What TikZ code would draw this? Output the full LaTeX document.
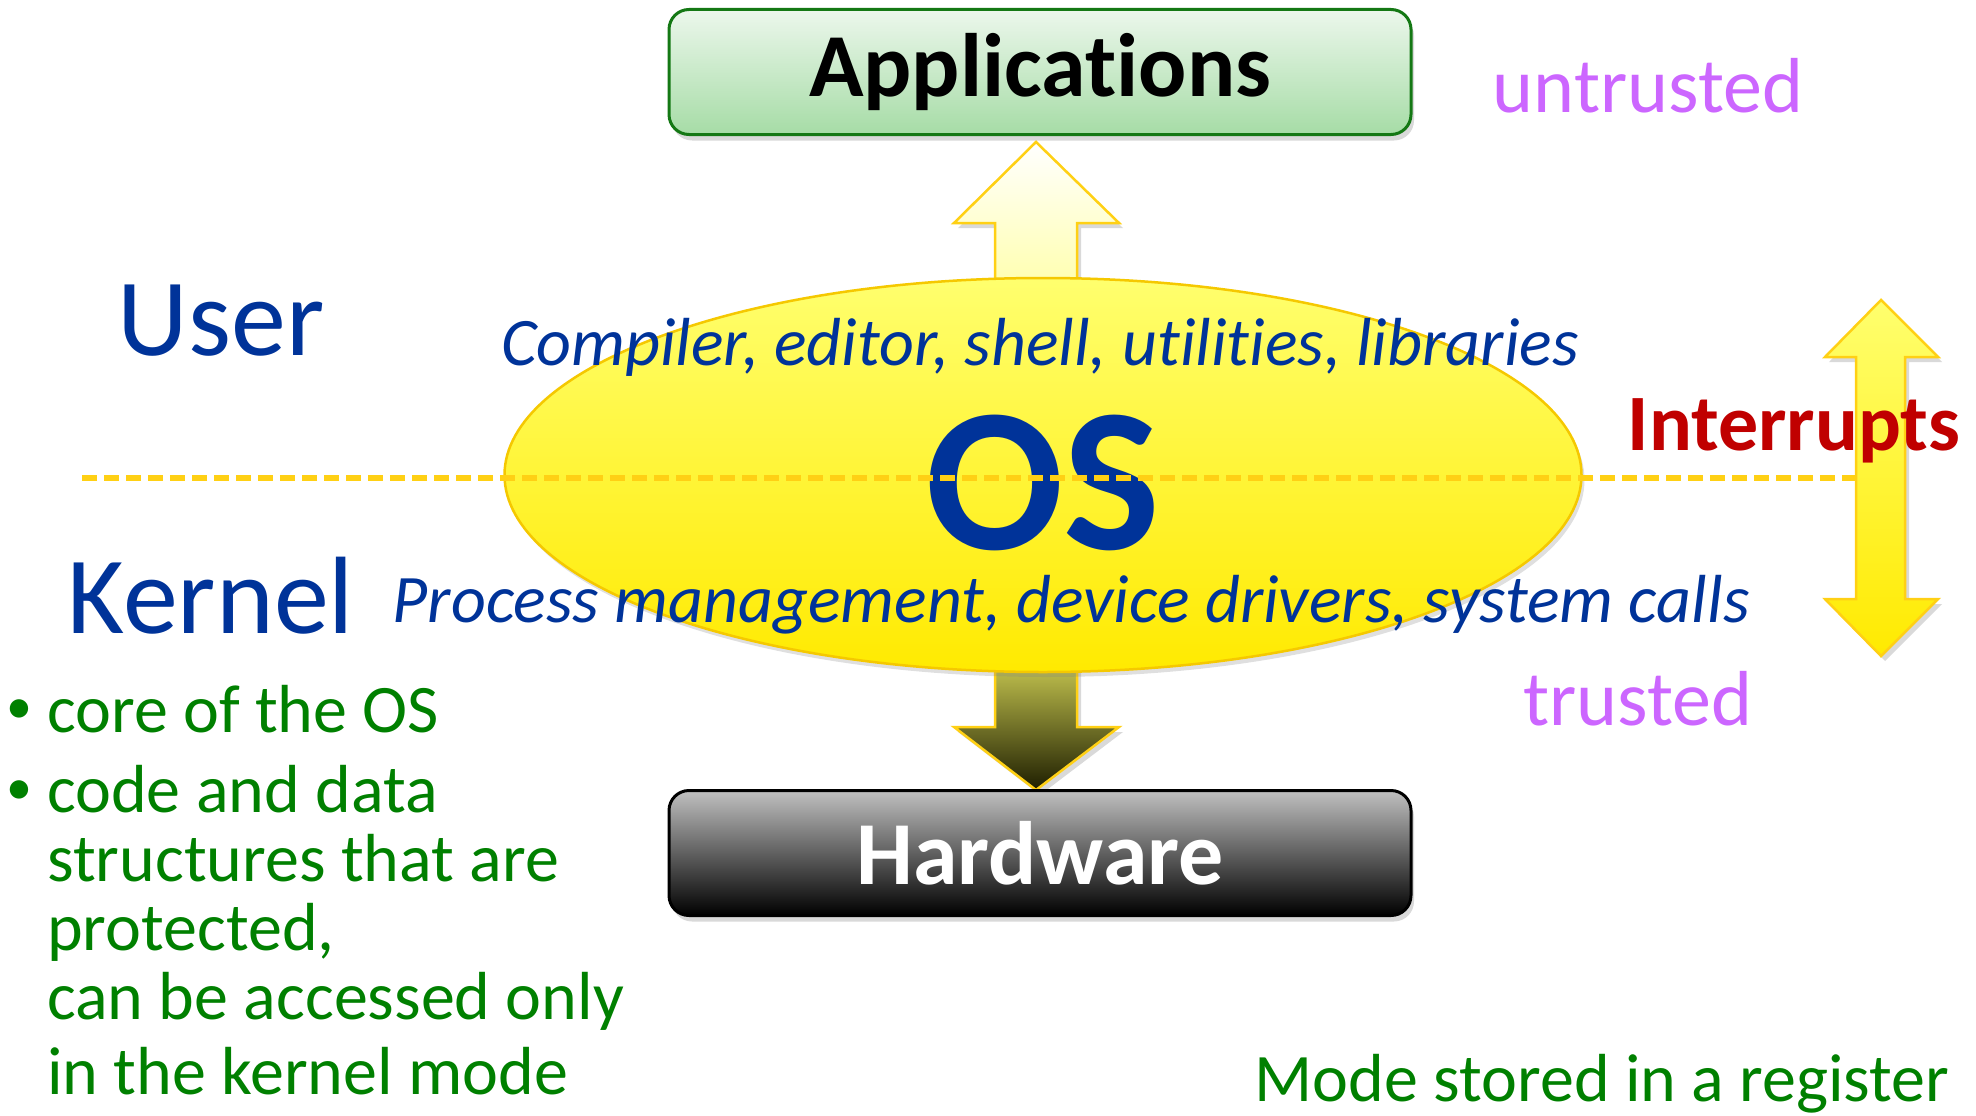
\documentclass[tikz,border=0pt]{standalone}
\usepackage{fontspec}
\setmainfont{Carlito}[RawFeature={-liga;-clig;-calt;-dlig}]
\usetikzlibrary{positioning,shapes.geometric,shadows}

\definecolor{userblue}{RGB}{0,51,153}
\definecolor{intred}{RGB}{192,0,0}
\definecolor{trustviolet}{RGB}{204,102,255}
\definecolor{notegreen}{RGB}{0,128,0}
\definecolor{gold}{RGB}{255,208,20}
\definecolor{boxgreen}{RGB}{20,120,20}

\begin{document}
\begin{tikzpicture}[
    x=1pt, y=-1pt,
    layerbox/.style={draw, line width=3, rounded corners=20, minimum width=742, minimum height=125, inner sep=0,
      drop shadow={shadow xshift=3pt, shadow yshift=-6pt, opacity=0.3}},
    blockarr/.style={draw=gold, line width=2.5, drop shadow={shadow xshift=4pt, shadow yshift=-5pt, opacity=0.3}},
    big/.style={font=\fontsize{90}{100}\selectfont\bfseries},
    mode/.style={font=\fontsize{110}{120}\selectfont, text=userblue, inner sep=0},
    layer/.style={font=\fontsize{68}{75}\selectfont\itshape, text=userblue, inner sep=0},
    trust/.style={font=\fontsize{78}{85}\selectfont, text=trustviolet, inner sep=0},
    note/.style={font=\fontsize{68}{69}\selectfont, text=notegreen, inner sep=0, align=left},
    divider/.style={gold, line width=6, dash pattern=on 15pt off 7pt}
]
\useasboundingbox (0,0) rectangle (1976,1116);

% arrows behind the OS
\draw[blockarr, top color=white, bottom color={rgb,255:red,255;green,255;blue,150}]
  (995,330) -- (995,223) -- (954,223) -- (1036,142) -- (1119,223) -- (1077,223) -- (1077,330) -- cycle;
\draw[blockarr, top color={rgb,255:red,240;green,240;blue,100}, bottom color={rgb,255:red,30;green,30;blue,0}]
  (995,630) -- (995,727) -- (954,727) -- (1036,790) -- (1119,727) -- (1077,727) -- (1077,630) -- cycle;

% layers
\node[layerbox, draw=boxgreen, top color={rgb,255:red,236;green,247;blue,236}, bottom color={rgb,255:red,166;green,220;blue,166}, big]
  (apps) at (1040,72) {Applications};
\node[layerbox, draw=black, top color={rgb,255:red,192;green,192;blue,192}, bottom color=black, big, text=white]
  (hw) at (1040,853) {Hardware};

\node[ellipse, draw={rgb,255:red,245;green,200;blue,0}, line width=2.5, minimum width=1077, minimum height=394, inner sep=0,
  top color={rgb,255:red,255;green,255;blue,110}, bottom color={rgb,255:red,255;green,234;blue,0},
  drop shadow={shadow xshift=3pt, shadow yshift=-5pt, opacity=0.25}] (osell) at (1043,475) {};
\node[font=\fontsize{205}{210}\selectfont\bfseries, text=userblue, inner sep=0, text height=140pt, text depth=0pt]
  (os) at (1043,479) {OS};

\node[layer] (userapps) at (1040,347) {Compiler, editor, shell, utilities, libraries};
\node[layer] (kernsvc) at (1071,605) {Process management, device drivers, system calls};

% user / kernel split
\coordinate (divL) at (82,478);
\coordinate (divR) at (1856,478);
\draw[divider] (divL) -- (divR);

\node[mode] (user) at (221,321) {User};
\node[mode] (kernel) at (211,596) {Kernel};

% interrupts
\draw[blockarr, top color={rgb,255:red,255;green,255;blue,110}, bottom color={rgb,255:red,255;green,234;blue,0}]
  (1881,300) -- (1938,357) -- (1905,357) -- (1905,599) -- (1938,599) -- (1881,656)
  -- (1825,599) -- (1856,599) -- (1856,357) -- (1825,357) -- cycle;
\node[font=\fontsize{80}{85}\selectfont\bfseries, text=intred, inner sep=0] (intr) at (1794,431) {Interrupts};

\node[trust] (untrusted) at (1648,86) {untrusted};
\node[trust] (trusted) at (1638,699) {trusted};

% kernel notes
\node[note, anchor=west] (core) at (47,709) {core of the OS};
\node[note, font=\fontsize{52}{52}\selectfont] (b1) at (19,712) {\textbullet};
\node[note, anchor=north west] (codedata) at (47,765)
  {code and data\\structures that are\\protected,\\can be accessed only\\[6pt]in the kernel mode};
\node[note, font=\fontsize{52}{52}\selectfont] (b2) at (19,793) {\textbullet};

\node[note] (reg) at (1602,1084) {Mode stored in a register};
\end{tikzpicture}
\end{document}
